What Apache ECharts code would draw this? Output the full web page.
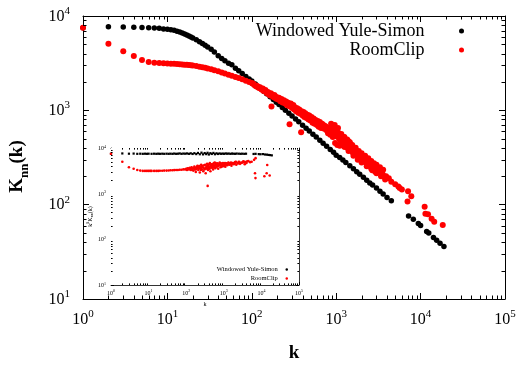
<!DOCTYPE html>
<html><head><meta charset="utf-8">
<script src="https://cdn.jsdelivr.net/npm/echarts@6/dist/echarts.min.js"></script>
<style>html,body{margin:0;padding:0;background:#fff}#c{width:526px;height:368px}</style>
</head><body><div id="c"></div>
<script>
// ---- data ----
const seriesNames = ['Windowed Yule-Simon', 'RoomClip'];

const blackK = [1,2,3,4,5,6,7,8,9,10,11,12,13,14,15,16,17,18,19,20,22,24,26,28,30,33,36,40,44,48,53,58,64,70,77,85,93,100,110,120,130,140,150,165,180,195,210,230,250,275,300,330,360,400,440,480,530,580,640,700,770,850,930,1000,1100,1200,1300,1450,1600,1750,1900,2100,2300,2500,2700,3000,3300,3600,4000,4500,7200,8200,9400,10000,11800,12500,14200,15500,17000,18900];
const blackV = [7500,7700,7650,7600,7550,7500,7450,7400,7300,7250,7150,7050,6900,6750,6600,6450,6300,6150,6000,5850,5600,5350,5100,4900,4700,4450,4150,3800,3550,3350,3150,3050,2800,2620,2450,2280,2150,2050,1900,1780,1670,1580,1495,1390,1300,1220,1150,1070,1000,930,870,810,755,695,645,605,558,521,482,449,416,385,359,335,316,297,280,258,240,224,210,195,182,170,162,150,139,130,119,110,76,70,63,60,52,50,45,42,39,36];

const redK = [1,2,3,4,5,6,7,8,9,10,11,12,13,14,15,16,17,18,19,20,22,24,26,28,30,33,36,40,44,48,53,58,64,70,77,85,93,100,105,112,118,125,128,135,138,145,150,155,160,165,171,172,178,185,190,198,205,210,218,225,232,240,248,255,262,270,280,285,290,300,310,318,325,335,345,355,365,375,384,390,400,410,420,430,445,455,470,480,495,510,525,540,555,570,590,605,620,640,660,680,700,720,745,770,800,820,850,870,880,910,940,960,970,1000,1030,1050,1060,1100,1140,1180,1220,1260,1300,1350,1400,1450,1480,1500,1560,1620,1700,1780,1850,1950,2050,2150,2250,2400,2550,2670,2700,2900,3100,3400,3700,4200,5450,5650,7000,7100,7760,11170,11400,12240,13500,14500,18300,
  102,108,115,122,132,142,148,158,168,175,182,188,195,202,215,222,235,245,258,266,275,295,305,315,330,340,350,360,370,380,395,405,415,435,450,465,490,500,520,535,550,580,600,630,650,670,690,710,730,760,790,830,860,900,920,990,1020,1080,1120,1160,1200,1280,1330,1380,1420,1530,1600,1650,1750,1820,1900,2000,2100,2200,2300,2450,2600,2800,3000,3250,3550,3900,
  1150,1250,1350,1450,1550,1700,1850,2000,2200,2400,2600,2800,3000,3300,3600,1250,1400,1600,1800,2000,2300,2600,3000,3400,3800,4500,5000,6000];
const redV = [7500,5070,4240,3760,3420,3250,3200,3170,3150,3130,3120,3110,3090,3080,3060,3050,3040,3020,3010,2990,2950,2900,2860,2820,2780,2720,2660,2600,2520,2460,2390,2320,2250,2200,2130,2060,2000,1950,1900,1800,1760,1760,1690,1700,1600,1640,1530,1560,1520,1440,1100,1480,1400,1450,1360,1380,1300,1360,1250,1320,1210,1280,1180,1240,1130,1200,712,1100,1180,1060,1140,1020,1080,980,1050,940,1020,920,585,980,880,960,850,930,830,900,800,880,780,850,740,820,720,790,700,770,670,750,650,720,700,690,680,660,570,640,550,720,640,520,620,700,450,600,430,650,580,420,540,440,520,410,490,400,470,380,440,410,360,390,340,360,320,335,300,310,280,290,255,232,265,224,240,215,200,191,156,150,108,139,123,95,80,79,71,66,61,
  1930,1850,1820,1720,1650,1620,1580,1480,1520,1430,1380,1420,1330,1360,1300,1250,1240,1220,1170,1160,1120,1120,1080,1060,1030,1000,990,960,990,930,920,900,910,880,860,850,830,800,800,780,760,750,730,720,690,680,660,640,650,620,610,600,590,570,560,530,540,500,480,470,460,440,430,410,400,380,360,370,350,340,320,315,300,290,285,270,260,245,240,225,210,200,
  560,520,490,460,430,400,370,350,330,310,290,275,265,250,235,410,370,330,300,280,255,240,215,200,185,175,165,145];

const insetBlackK = [1,2,3,4,5,6,7,8,9,10,12,14,16,18,20,23,26,30,34,38,43,48,54,60,67,75,84,94,105,118,132,148,165,185,205,230,255,280,310,340,370,400,440,480,530,580,640,700,770,850,930,1020,1120,1230,1350,1500,1650,1800,2000,2200,2500,2800,3100,3500,3900,6200,7000,8500,9500,11000,12500,14000,15500,17000,18900];
const insetBlackV = [7500,7600,7500,7550,7450,7500,7450,7500,7450,7500,7450,7500,7450,7500,7450,7500,7450,7500,7450,7500,7450,7550,7450,7500,7600,7450,7550,7500,7600,7450,7650,7400,7700,7350,7800,7300,7900,7250,7750,7350,7850,7200,7700,7400,7800,7300,7650,7400,7600,7450,7550,7450,7600,7500,7550,7450,7550,7500,7450,7550,7500,7450,7500,7450,7500,7400,7450,7350,7300,7350,7200,7150,7050,7000,6900];

const insetRedK = [1,2,3,4,5,6,7,8,9,10,11,12,14,16,18,20,23,26,30,34,38,43,48,54,60,67,75,84,94,100,105,110,118,125,132,140,148,155,165,172,180,190,200,210,220,230,240,250,260,275,285,300,315,330,345,360,372,380,395,410,425,440,460,480,500,520,545,570,595,620,650,680,710,740,780,820,860,900,950,1000,1050,1100,1170,1240,1320,1400,1500,1600,1700,1850,2000,2150,2300,2500,2700,3000,3300,3600,4000,4500,5000,5500,6400,7000,6760,6960,12000,13800,14300,16600,
  102,115,128,136,145,160,170,185,195,205,215,225,235,245,255,270,290,305,320,340,355,365,390,405,420,450,470,490,510,535,560,585,610,640,670,700,760,800,840,880,930,980,1030,1080,1150,1200,1280,1360,1450,1550,1650,1800,1950,2100,2400,2600,2900,3200,3500,3800,4200];
const insetRedV = [7500,5000,3800,3500,3300,3200,3150,3150,3150,3150,3150,3150,3150,3150,3150,3180,3180,3200,3200,3220,3250,3250,3280,3300,3300,3350,3350,3400,3400,3500,3300,3600,3400,3700,3300,3800,3500,3200,3900,3400,3000,3700,4100,3300,3900,2900,3600,4300,3400,3800,3100,4200,3500,2800,3900,4500,1480,3300,4000,3600,4700,3100,4200,3700,4400,3400,4000,4800,3600,4300,3900,4600,3500,4200,4800,3800,4400,4100,4700,4000,4500,3900,4600,4200,4800,4300,4600,4100,4700,4400,4900,4300,4700,5000,4500,4800,5100,4400,4700,5200,4900,5000,5500,6000,2800,2190,2400,2800,4250,2500,
  3450,3550,3500,3650,3300,3600,3750,3450,3900,3650,3500,4000,3700,3300,3900,4100,3700,3400,4300,3700,3500,4100,3800,4400,3500,3900,4400,4100,3800,4600,4200,3800,4700,4100,4300,4000,4500,4200,4600,3900,4300,4600,4200,4700,4300,4500,4500,4700,4400,4800,4500,4700,4600,5000,4600,4900,4700,4800,5000,4900,5100];

const xTickValues = [1,10,100,1000,10000,100000];
const yTickValues = [10,100,1000,10000];

// ---- build ----
const zip = (a, b) => a.map((v, i) => [v, b[i]]);
const FONT = 'Liberation Serif';
const fmt = v => '{b|10}{s|' + Math.round(Math.log10(v)) + '}';
const mainRich = {
  b: {fontSize: 16, fontFamily: FONT, color: '#000', lineHeight: 17, verticalAlign: 'bottom'},
  s: {fontSize: 11, fontFamily: FONT, color: '#000', lineHeight: 11, verticalAlign: 'bottom', padding: [0, 0, 8, 0]}
};
const insetRich = {
  b: {fontSize: 6, fontFamily: FONT, color: '#000', lineHeight: 7, verticalAlign: 'bottom'},
  s: {fontSize: 4, fontFamily: FONT, color: '#000', lineHeight: 4, verticalAlign: 'bottom', padding: [0, 0, 3, 0]}
};
const xr = [xTickValues[0], xTickValues[xTickValues.length - 1]];
const yr = [yTickValues[0], yTickValues[yTickValues.length - 1]];

function xAx(grid, pos, labels, main) {
  return {
    type: 'log', logBase: 10, gridIndex: grid, position: pos, min: xr[0], max: xr[1],
    splitNumber: 5,
    axisLine: {show: true, onZero: false, lineStyle: {color: main ? '#000' : '#333', width: 1}},
    axisTick: {show: true, inside: true, length: main ? 6 : 3, lineStyle: {color: '#000'}},
    axisLabel: {show: labels, margin: main ? 12 : 4, formatter: fmt, rich: main ? mainRich : insetRich},
    splitLine: {show: false}
  };
}
function yAx(grid, pos, labels, main) {
  return {
    type: 'log', logBase: 10, gridIndex: grid, position: pos, min: yr[0], max: yr[1],
    splitNumber: 3,
    axisLine: {show: true, onZero: false, lineStyle: {color: main ? '#000' : '#333', width: 1}},
    axisTick: {show: true, inside: true, length: main ? 6 : 3, lineStyle: {color: '#000'}},
    axisLabel: {show: labels, margin: main ? 13 : 5, formatter: fmt, rich: main ? mainRich : insetRich},
    splitLine: {show: false}
  };
}

const xAxes = [xAx(0, 'bottom', true, true), xAx(0, 'top', false, true), xAx(1, 'bottom', true, false), xAx(1, 'top', false, false)];
const yAxes = [yAx(0, 'left', true, true), yAx(0, 'right', false, true), yAx(1, 'left', true, false), yAx(1, 'right', false, false)];
Object.assign(xAxes[0], {name: 'k', nameLocation: 'middle', nameGap: 45, nameTextStyle: {fontFamily: FONT, fontSize: 19, fontWeight: 'bold', color: '#000'}});
Object.assign(yAxes[0], {name: '{a|K}{n|nn}{a|(k)}', nameLocation: 'middle', nameGap: 52, nameTextStyle: {
  padding: [0, 18, 0, 0],
  rich: {
    a: {fontFamily: FONT, fontSize: 19, fontWeight: 'bold', color: '#000', verticalAlign: 'bottom', padding: [0, 0, 4, 0]},
    n: {fontFamily: FONT, fontSize: 13, fontWeight: 'bold', color: '#000', verticalAlign: 'bottom'}
  }}});
Object.assign(xAxes[2], {name: 'k', nameLocation: 'middle', nameGap: 16, nameTextStyle: {fontFamily: FONT, fontSize: 6, color: '#000'}});
Object.assign(yAxes[2], {name: '{a|k}{p|β}{a|K}{n|nn}{a|(k)}', nameLocation: 'middle', nameGap: 16, nameTextStyle: {
  rich: {
    a: {fontFamily: FONT, fontSize: 6, color: '#000', verticalAlign: 'bottom', padding: [0, 0, 1, 0]},
    p: {fontFamily: FONT, fontSize: 4, color: '#000', verticalAlign: 'bottom', padding: [0, 0, 4, 0]},
    n: {fontFamily: FONT, fontSize: 4, color: '#000', verticalAlign: 'bottom'}
  }}});

function legendFor(name, top, right, size, w, h, icon) {
  return {
    data: [{name: name, icon: icon}], orient: 'vertical', align: 'right', top: top, right: right,
    padding: 0, itemWidth: w, itemHeight: h, selectedMode: false,
    textStyle: {fontFamily: FONT, fontSize: size, color: '#000'}
  };
}

const option = {
  animation: false,
  backgroundColor: '#fff',
  grid: [
    {left: 76, right: 21, top: 16, bottom: 60},
    {left: 111, right: 227, top: 148, bottom: 83, show: true, backgroundColor: '#fff', borderWidth: 0, z: 3}
  ],
  xAxis: xAxes,
  yAxis: yAxes,
  legend: [
    legendFor(seriesNames[0], 22, 62, 18, 64, 5, 'circle'),
    legendFor(seriesNames[1], 41, 62, 18, 64, 5, 'circle'),
    legendFor(seriesNames[0], 266, 238, 6.5, 8, 2.5, 'circle'),
    legendFor(seriesNames[1], 275, 238, 6.5, 8, 2.5, 'circle')
  ],
  series: [
    {type: 'scatter', name: seriesNames[0], xAxisIndex: 0, yAxisIndex: 0, data: zip(blackK, blackV), symbol: 'circle', symbolSize: 5.5, itemStyle: {color: '#000', opacity: 1}, silent: true},
    {type: 'scatter', name: seriesNames[1], xAxisIndex: 0, yAxisIndex: 0, data: zip(redK, redV), symbol: 'circle', symbolSize: 6, itemStyle: {color: '#ff0000', opacity: 1}, silent: true},
    {type: 'scatter', name: seriesNames[0], xAxisIndex: 2, yAxisIndex: 2, data: zip(insetBlackK, insetBlackV), symbol: 'rect', symbolSize: 2.2, itemStyle: {color: '#000', opacity: 1}, silent: true, z: 4},
    {type: 'scatter', name: seriesNames[1], xAxisIndex: 2, yAxisIndex: 2, data: zip(insetRedK, insetRedV), symbol: 'circle', symbolSize: 2.6, itemStyle: {color: '#ff0000', opacity: 1}, silent: true, z: 4}
  ]
};

const chart = echarts.init(document.getElementById('c'));
chart.setOption(option);

// minor ticks (2..9 per decade) on all four sides, placed through the axes' own scales
function minorTicks(xi, yi, len, z) {
  const els = [];
  const px = v => chart.convertToPixel({xAxisIndex: xi}, v);
  const py = v => chart.convertToPixel({yAxisIndex: yi}, v);
  const xl = px(xr[0]), xh = px(xr[1]), yb = py(yr[0]), yt = py(yr[1]);
  const ln = (x1, y1, x2, y2) => ({type: 'line', z: z, silent: true,
    shape: {x1: x1, y1: y1, x2: x2, y2: y2}, style: {stroke: '#000', lineWidth: 1}});
  for (let d = xr[0]; d < xr[1]; d *= 10) for (let m = 2; m <= 9; m++) {
    const x = Math.round(px(m * d)) + 0.5;
    els.push(ln(x, yb, x, yb - len), ln(x, yt, x, yt + len));
  }
  for (let d = yr[0]; d < yr[1]; d *= 10) for (let m = 2; m <= 9; m++) {
    const y = Math.round(py(m * d)) + 0.5;
    els.push(ln(xl, y, xl + len, y), ln(xh, y, xh - len, y));
  }
  return els;
}
chart.setOption({graphic: minorTicks(0, 0, 3.5, 10).concat(minorTicks(2, 2, 1.6, 20))});
</script>
</body></html>
